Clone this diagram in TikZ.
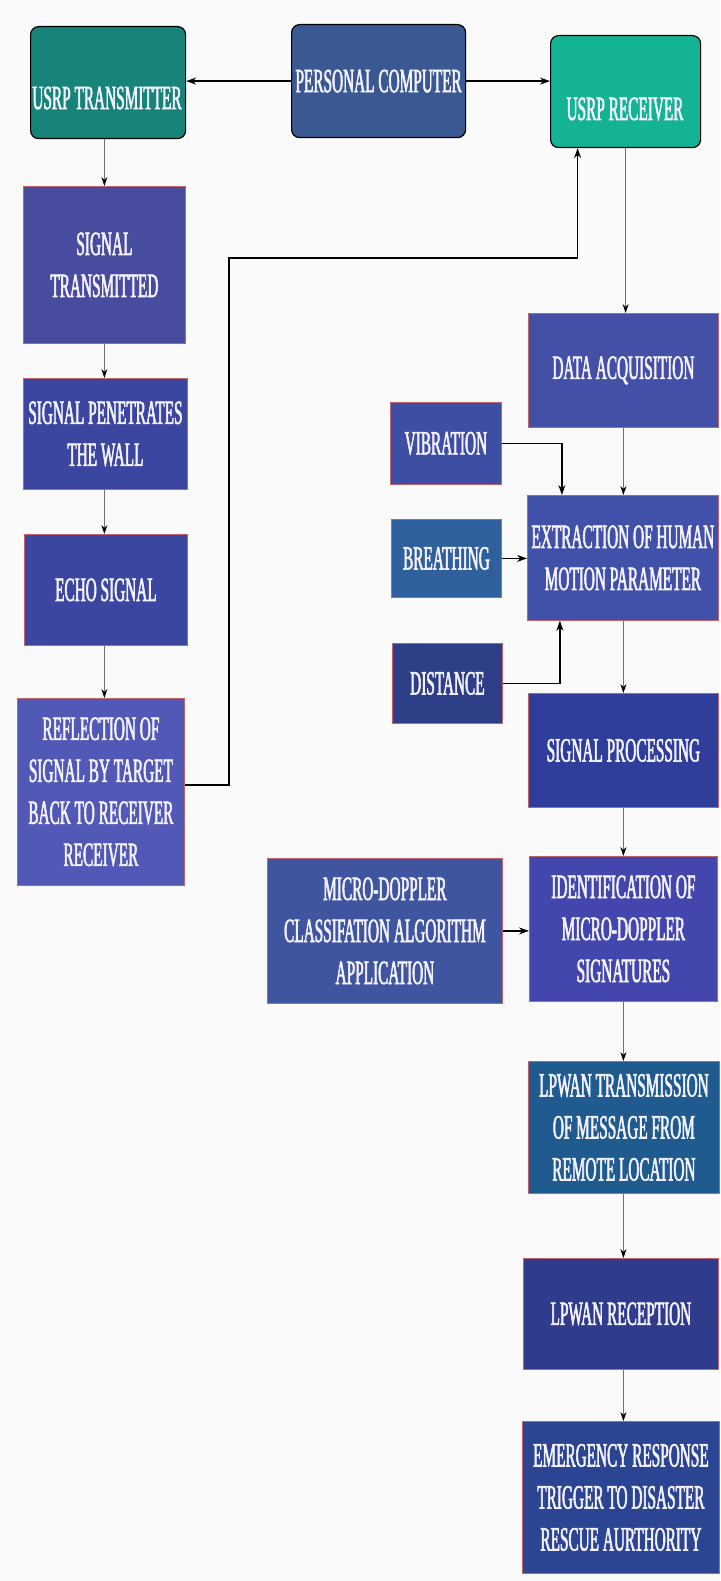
\documentclass[tikz,border=0pt]{standalone}
\usepackage{fontspec}
\setmainfont[FakeStretch=0.45,FakeBold=1.6]{Liberation Serif}
\usetikzlibrary{arrows.meta}

\definecolor{bgcolor}{HTML}{FAFAFA}
\definecolor{boxedge}{HTML}{C0646A}
\definecolor{linkgray}{HTML}{707070}
\definecolor{labelwhite}{HTML}{F4F2FF}
\definecolor{txteal}{HTML}{168479}
\definecolor{pcblue}{HTML}{3A5892}
\definecolor{rxteal}{HTML}{14B393}
\definecolor{stcol}{HTML}{484C9E}
\definecolor{pencol}{HTML}{3B46A0}
\definecolor{echocol}{HTML}{3B46A0}
\definecolor{reflcol}{HTML}{5158B6}
\definecolor{dacol}{HTML}{4450A6}
\definecolor{vibcol}{HTML}{3E4EA2}
\definecolor{brcol}{HTML}{305F9D}
\definecolor{distcol}{HTML}{2E3F88}
\definecolor{extrcol}{HTML}{4150A8}
\definecolor{spcol}{HTML}{2E3E9A}
\definecolor{mdcol}{HTML}{3F55A0}
\definecolor{idcol}{HTML}{4347AD}
\definecolor{lptxcol}{HTML}{1F5B8F}
\definecolor{lprxcol}{HTML}{2F3B8B}
\definecolor{emcol}{HTML}{2B4592}

\begin{document}
\begin{tikzpicture}[x=1pt,y=-1pt,
  flowbox/.style={draw=boxedge, line width=0.8pt, anchor=north west, inner sep=0pt,
    text=labelwhite, align=center, font=\fontsize{34}{42}\selectfont},
  roundbox/.style={flowbox, draw=black, rounded corners=8pt, line width=1.2pt},
  boxtext/.style={text=labelwhite, align=center, inner sep=0pt, font=\fontsize{34}{42}\selectfont},
  link/.style={draw=linkgray, line width=0.8pt, -{Stealth[length=9pt,width=6pt,color=black]}},
  boldlink/.style={draw=black, line width=1.5pt, -{Stealth[length=10pt,width=7pt]}},
]
\useasboundingbox[fill=bgcolor] (0,0) rectangle (720,1581);

% top row
\node[roundbox, fill=txteal, minimum width=155pt, minimum height=112pt] (tx) at (30,26) {};
\node[boxtext] (txlabel) at (107,98) {USRP TRANSMITTER};
\node[roundbox, fill=pcblue, minimum width=174pt, minimum height=113pt] (pc) at (291,24) {PERSONAL COMPUTER};
\node[roundbox, fill=rxteal, minimum width=150pt, minimum height=112pt] (rx) at (550,35) {};
\node[boxtext] (rxlabel) at (625,109) {USRP RECEIVER};

% transmit chain (left column)
\node[flowbox, fill=stcol, minimum width=162pt, minimum height=157pt] (st) at (23,186) {SIGNAL\\TRANSMITTED};
\node[flowbox, fill=pencol, minimum width=164pt, minimum height=111pt] (pen) at (23,378) {SIGNAL PENETRATES\\THE WALL};
\node[flowbox, fill=echocol, minimum width=163pt, minimum height=111pt] (echo) at (24,534) {ECHO SIGNAL};
\node[flowbox, fill=reflcol, minimum width=167pt, minimum height=187pt] (refl) at (17,698) {REFLECTION OF\\SIGNAL BY TARGET\\BACK TO RECEIVER\\RECEIVER};

% receive chain (right column)
\node[flowbox, fill=dacol, minimum width=190pt, minimum height=114pt] (da) at (528,313) {DATA ACQUISITION};
\node[flowbox, fill=vibcol, minimum width=111pt, minimum height=82pt] (vib) at (390,402) {VIBRATION};
\node[flowbox, fill=extrcol, minimum width=191pt, minimum height=125pt] (extr) at (527,495) {EXTRACTION OF HUMAN\\MOTION PARAMETER};
\node[flowbox, fill=brcol, minimum width=110pt, minimum height=78pt] (br) at (391,519) {BREATHING};
\node[flowbox, fill=distcol, minimum width=110pt, minimum height=80pt] (dist) at (392,643) {DISTANCE};
\node[flowbox, fill=spcol, minimum width=190pt, minimum height=114pt] (sp) at (528,693) {SIGNAL PROCESSING};
\node[flowbox, fill=mdcol, minimum width=235pt, minimum height=145pt] (md) at (267,858) {MICRO-DOPPLER\\CLASSIFATION ALGORITHM\\APPLICATION};
\node[flowbox, fill=idcol, minimum width=188pt, minimum height=145pt] (id) at (529,856) {IDENTIFICATION OF\\MICRO-DOPPLER\\SIGNATURES};
\node[flowbox, fill=lptxcol, minimum width=191pt, minimum height=132pt] (lptx) at (528,1061) {LPWAN TRANSMISSION\\OF MESSAGE FROM\\REMOTE LOCATION};
\node[flowbox, fill=lprxcol, minimum width=195pt, minimum height=111pt] (lprx) at (523,1258) {LPWAN RECEPTION};
\node[flowbox, fill=emcol, minimum width=197pt, minimum height=152pt] (em) at (522,1421) {EMERGENCY RESPONSE\\TRIGGER TO DISASTER\\RESCUE AURTHORITY};

% bend point of the feedback path
\coordinate (bendA) at (229,258);

% connectors
\draw[boldlink] (pc.west) -- (pc.west -| tx.east);
\draw[boldlink] (pc.east) -- (pc.east -| rx.west);

\draw[link] (tx.south -| st.north) -- (st.north);
\draw[link] (st.south) -- (st.south |- pen.north);
\draw[link] (st.south |- pen.south) -- (st.south |- echo.north);
\draw[link] (st.south |- echo.south) -- (st.south |- refl.north);
\draw[boldlink, line width=1.2pt] ([yshift=7pt]refl.east) -| (bendA) -| ([xshift=-48pt]rx.south);

\draw[link] (rx.south) -- (rx.south |- da.north);
\draw[link] (da.south) -- (da.south |- extr.north);
\draw[boldlink, line width=1.2pt] (vib.east) -| ([xshift=-61pt]extr.north);
\draw[boldlink, line width=1.2pt] (br.east) -- (br.east -| extr.west);
\draw[boldlink, line width=1.2pt] (dist.east) -| ([xshift=-63pt]extr.south);
\draw[link] (da.south |- extr.south) -- (da.south |- sp.north);
\draw[link] (sp.south) -- (sp.south |- id.north);
\draw[boldlink, line width=1.2pt] (md.east) -- (md.east -| id.west);
\draw[link] (sp.south |- id.south) -- (sp.south |- lptx.north);
\draw[link] (sp.south |- lptx.south) -- (sp.south |- lprx.north);
\draw[link] (sp.south |- lprx.south) -- (sp.south |- em.north);
\end{tikzpicture}
\end{document}
